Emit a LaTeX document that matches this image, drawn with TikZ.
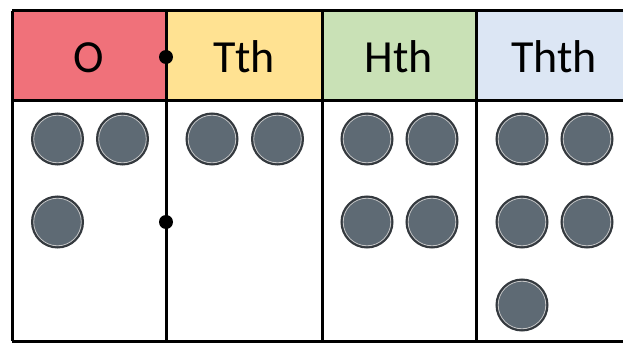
\documentclass[tikz,border=0pt]{standalone}
\usepackage{fontspec}
\setmainfont{Carlito}
\usepackage{tikz}
\definecolor{onesred}{HTML}{F0717A}
\definecolor{tenthyellow}{HTML}{FFE292}
\definecolor{hundgreen}{HTML}{C9E1B6}
\definecolor{thoublue}{HTML}{DCE6F4}
\definecolor{discgray}{HTML}{5E6A74}
\definecolor{discedge}{HTML}{34393E}

\begin{document}
\begin{tikzpicture}[x=0.5pt,y=-0.5pt,
  head/.style={minimum width=77.5pt,minimum height=45pt,inner sep=0pt,
    text height=17pt,text depth=0pt,font=\fontsize{23}{24}\selectfont},
  disc/.style={circle,fill=discgray,draw=discedge,line width=1pt,
    minimum size=25.5pt,inner sep=0pt,
    path picture={\draw[gray!45,line width=0.4pt]
      (path picture bounding box.center) circle (11.9pt);}},
  pin/.style={circle,fill=black,minimum size=7pt,inner sep=0pt},
  rule/.style={line width=1.5pt}]
  \useasboundingbox (0,0) rectangle (623,343);
  \clip (0,0) rectangle (623,343);
  % header cells
  \node[head,fill=onesred] (ones) at (89,55) {O};
  \node[head,fill=tenthyellow] (tenths) at (244,55) {Tth};
  \node[head,fill=hundgreen] (hundredths) at (399,55) {Hth};
  \node[head,fill=thoublue] (thousandths) at (554,55) {Thth};
  % grid
  \draw[rule] (12,10.5) -- (650,10.5);
  \draw[rule] (12,100) -- (650,100);
  \draw[rule] (12,341) -- (650,341);
  \draw[rule] (12,10.5) -- (12,341);
  \draw[rule] (166,10.5) -- (166,341);
  \draw[rule] (322,10.5) -- (322,341);
  \draw[rule] (476,10.5) -- (476,341);
  % ones
  \node[disc] (o1) at (57.5,139) {};
  \node[disc] (o2) at (122.5,139) {};
  \node[disc] (o3) at (57.5,222) {};
  % tenths
  \node[disc] (t1) at (212,139) {};
  \node[disc] (t2) at (277.5,139) {};
  % hundredths
  \node[disc] (h1) at (367,139) {};
  \node[disc] (h2) at (432,139) {};
  \node[disc] (h3) at (367,222) {};
  \node[disc] (h4) at (432,222) {};
  % thousandths
  \node[disc] (th1) at (522,139) {};
  \node[disc] (th2) at (587,139) {};
  \node[disc] (th3) at (522,222) {};
  \node[disc] (th4) at (587,222) {};
  \node[disc] (th5) at (522,305) {};
  % decimal points
  \node[pin] (pointtop) at (166,57) {};
  \node[pin] (pointbot) at (166,222) {};
\end{tikzpicture}
\end{document}
